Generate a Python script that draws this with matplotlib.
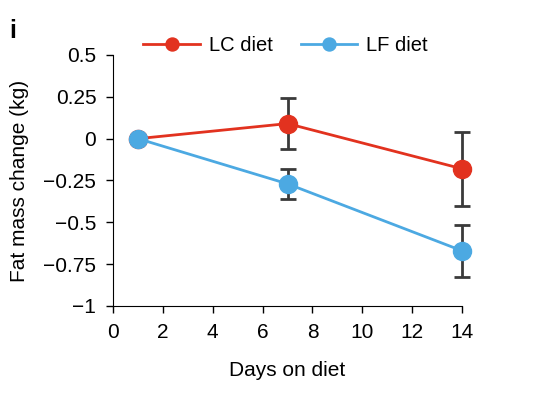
import matplotlib
matplotlib.use("Agg")
import matplotlib.pyplot as plt

days = [1, 7, 14]
lc_mean = [0.0, 0.09, -0.18]
lc_err = [0.0, 0.15, 0.22]
lf_mean = [0.0, -0.27, -0.67]
lf_err = [0.0, 0.09, 0.155]
xticks = [0, 2, 4, 6, 8, 10, 12, 14]
yticks = [0.5, 0.25, 0, -0.25, -0.5, -0.75, -1]
ytick_labels = ["0.5", "0.25", "0", "\u22120.25", "\u22120.5", "\u22120.75", "\u22121"]

plt.rcParams['font.family'] = ['Liberation Sans', 'DejaVu Sans']

red = "#E2321F"
blue = "#4CA9E2"
errc = "#3a3a3a"

fig = plt.figure(figsize=(5.54, 4.04), dpi=100)
ax = fig.add_axes([0.204, 0.2426, 0.630, 0.6213])

for mean, err, c, lab in [(lc_mean, lc_err, red, "LC diet"), (lf_mean, lf_err, blue, "LF diet")]:
    eb = ax.errorbar(days[1:], mean[1:], yerr=err[1:], fmt='none', ecolor=errc,
                     elinewidth=2, capsize=6, capthick=2, zorder=2)
    for art in eb.lines[1] + eb.lines[2]:
        art.set_clip_on(False)
    ax.plot(days, mean, '-o', color=c, lw=2, markersize=13, label=lab, zorder=3,
            clip_on=False)

ax.set_xlim(0, 14)
ax.set_ylim(-1, 0.5)
ax.set_xticks(xticks)
ax.set_yticks(yticks)
ax.set_yticklabels(ytick_labels)
ax.spines['top'].set_visible(False)
ax.spines['right'].set_visible(False)
ax.tick_params(labelsize=15, length=5, width=1, direction='out', pad=7)
ax.set_xlabel("Days on diet", fontsize=15, labelpad=14)
ax.set_ylabel("Fat mass change (kg)", fontsize=15, labelpad=10)
ax.margins(0)

leg = ax.legend(loc='center', bbox_to_anchor=(0.495, 1.036), ncol=2, frameon=False,
                fontsize=14.5, markerscale=0.72, handlelength=2.8, columnspacing=1.4,
                handletextpad=0.45, borderpad=0)

fig.text(0.017, 0.905, "i", fontsize=18, fontweight='bold')

fig.savefig("out.png", dpi=100)
